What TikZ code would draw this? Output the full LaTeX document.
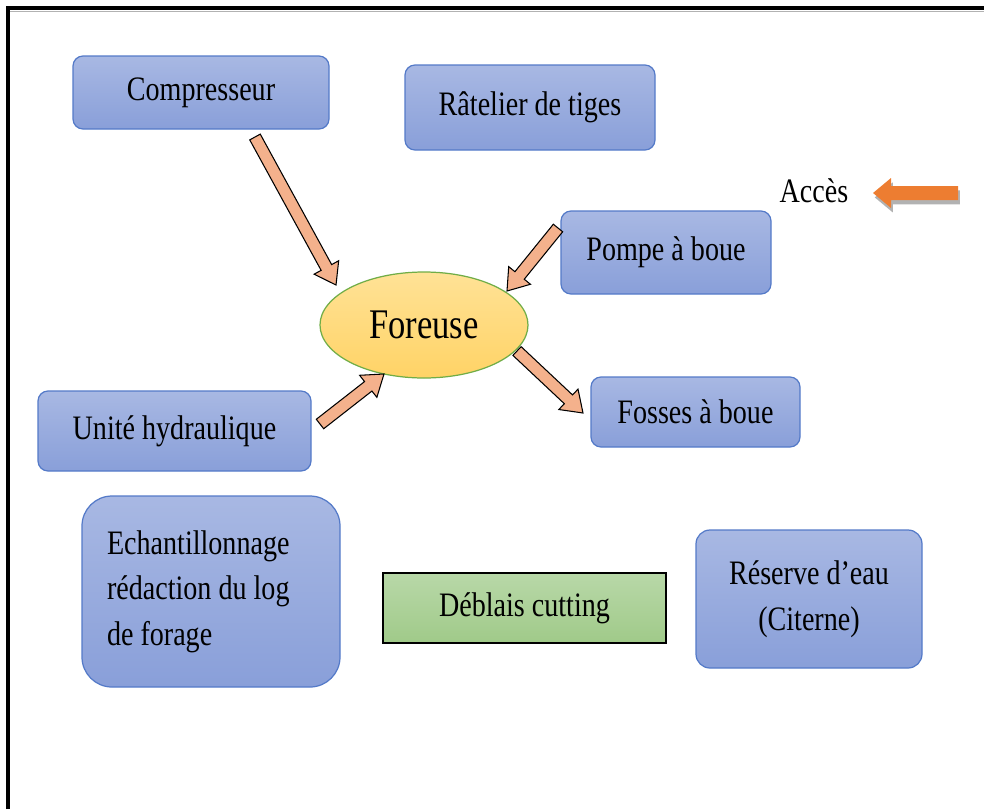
\documentclass[tikz,border=0pt]{standalone}
\usepackage{fontspec}
\setmainfont{Liberation Serif}[FakeStretch=0.82]
\usetikzlibrary{calc,shapes.geometric,shadows}

\definecolor{boxtop}{RGB}{168,184,227}
\definecolor{boxbot}{RGB}{137,159,217}
\definecolor{boxline}{RGB}{84,122,200}
\definecolor{ovtop}{RGB}{255,226,150}
\definecolor{ovbot}{RGB}{255,211,102}
\definecolor{ovline}{RGB}{112,173,71}
\definecolor{grtop}{RGB}{184,216,168}
\definecolor{grbot}{RGB}{160,202,137}
\definecolor{salmon}{RGB}{244,177,140}
\definecolor{accorange}{RGB}{237,125,49}

% block arrow: style, tail, tip (uses \shw, \hdw, \hdl)
\newcommand{\blockarr}[3]{%
  \path ($(#3)!\hdl!(#2)$) coordinate (bh);
  \draw[#1] ($(#2)!\shw!90:(#3)$) -- ($(bh)!\shw!-90:(#2)$) -- ($(bh)!\hdw!-90:(#2)$)
    -- (#3) -- ($(bh)!\hdw!90:(#2)$) -- ($(bh)!\shw!90:(#2)$) -- ($(#2)!\shw!-90:(#3)$) -- cycle;}

\begin{document}
\begin{tikzpicture}[x=0.02cm,y=-0.02cm]
 \def\px{0.02cm}
 \def\shw{0.12cm}
 \def\hdw{0.28cm}
 \def\hdl{0.4cm}
 \tikzset{unit/.style={draw=boxline, line width=0.7pt, top color=boxtop, bottom color=boxbot,
   rounded corners=0.2cm, align=center, inner sep=0pt, font=\fontsize{19.5}{26}\selectfont}}
 \tikzset{drill/.style={ellipse, draw=ovline, line width=0.7pt, top color=ovtop, bottom color=ovbot,
   inner sep=0pt, font=\fontsize{24}{28}\selectfont}}
 \tikzset{spoil/.style={draw=black, line width=0.8pt, top color=grtop, bottom color=grbot,
   inner sep=0pt, font=\fontsize{19.5}{26}\selectfont}}
 \tikzset{feed/.style={draw=black, line width=0.6pt, fill=salmon, line join=miter}}
 \tikzset{access/.style={fill=accorange, draw=none,
   drop shadow={shadow xshift=1pt, shadow yshift=-2.5pt, opacity=0.3, fill=black}}}

 \useasboundingbox (0,0) rectangle (984,809);
 \draw[line width=0.08cm] (8,809) -- (8,8) -- (984,8);
 \draw[gray!60, line width=0.5pt] (10,11.5) -- (984,11.5);

 \node[unit, minimum width=256*\px, minimum height=73*\px] (comp) at (201,92.5) {Compresseur};
 \node[unit, minimum width=250*\px, minimum height=85*\px] (rat) at (530,107.5) {Râtelier de tiges};
 \node[unit, minimum width=210*\px, minimum height=83*\px] (pompe) at (666,252.5) {Pompe à boue};
 \node[unit, minimum width=209*\px, minimum height=70*\px] (fosses) at (695.5,412) {Fosses à boue};
 \node[unit, minimum width=273*\px, minimum height=80*\px] (unite) at (174.5,431) {Unité hydraulique};
 \node[unit, rounded corners=0.6cm, minimum width=258*\px, minimum height=191*\px,
   text width=208*\px, align=flush left] (echant) at (211,591.5)
   {Echantillonnage\\rédaction du log\\de forage};
 \node[spoil, minimum width=283*\px, minimum height=70*\px] (deblais) at (524.5,608) {Déblais cutting};
 \node[unit, rounded corners=0.28cm, minimum width=226*\px, minimum height=138*\px] (reserve)
   at (809,599) {Réserve d’eau\\(Citerne)};
 \node[drill, minimum width=208*\px, minimum height=106*\px] (foreuse) at (424,325) {Foreuse};
 \node[font=\fontsize{19.5}{26}\selectfont] (acces) at (814,191) {Accès};

 \coordinate (comptail) at (255,137);
 \coordinate (comptip) at (336,285);
 \coordinate (pompetail) at (558,228);
 \coordinate (pompetip) at (507,291);
 \coordinate (unitetail) at (320,424);
 \coordinate (unitetip) at (384,374);
 \coordinate (fossestail) at (517,351);
 \coordinate (fossestip) at (583,413);

 \blockarr{feed}{comptail}{comptip}
 \blockarr{feed}{pompetail}{pompetip}
 \blockarr{feed}{unitetail}{unitetip}
 \blockarr{feed}{fossestail}{fossestip}

 \coordinate (acctail) at (958,193);
 \coordinate (acctip) at (873,193);
 \def\shw{0.14cm}
 \def\hdw{0.3cm}
 \def\hdl{0.36cm}
 \blockarr{access}{acctail}{acctip}
\end{tikzpicture}
\end{document}
